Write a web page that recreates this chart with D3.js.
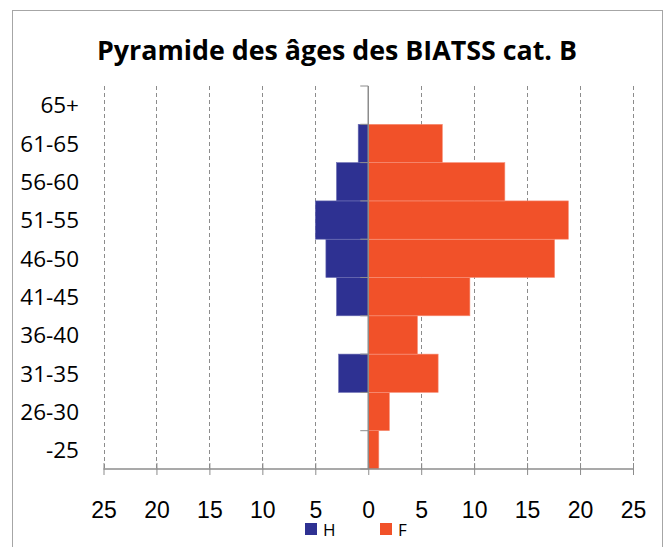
<!DOCTYPE html>
<html>
<head>
<meta charset="utf-8">
<script src="https://cdn.jsdelivr.net/npm/d3@7/dist/d3.min.js"></script>
<style>
  body { margin: 0; background: #fff; }
  svg { display: block; font-family: "Open Sans", sans-serif; }
</style>
</head>
<body>
<div id="chart"></div>
<script>
  // age groups, bottom to top as in the spreadsheet
  const ages = ["-25", "26-30", "31-35", "36-40", "41-45", "46-50", "51-55", "56-60", "61-65", "65+"];
  const hommes = [0, 0, 2.8, 0, 3, 4, 5, 3, 0.95, 0];
  const femmes = [1, 2, 6.6, 4.65, 9.6, 17.6, 18.9, 12.9, 7, 0];
  const ticks = [-25, -20, -15, -10, -5, 0, 5, 10, 15, 20, 25];
  const series = ["H", "F"];
  const colors = { H: "#2E3192", F: "#F15129" };

  const width = 667, height = 547;
  const plot = { left: 103.5, right: 633, top: 86, bottom: 469 };

  const svg = d3.select("#chart").append("svg")
    .attr("width", width)
    .attr("height", height);

  // chart frame
  svg.append("rect")
    .attr("x", 12.5).attr("y", 10.5)
    .attr("width", 650).attr("height", 560)
    .attr("fill", "#fff")
    .attr("stroke", "#a6a6a6");

  svg.append("text")
    .attr("x", 337).attr("y", 60)
    .attr("text-anchor", "middle")
    .style("font-size", "26px")
    .style("font-weight", "bold")
    .attr("textLength", 480)
    .attr("lengthAdjust", "spacingAndGlyphs")
    .text("Pyramide des âges des BIATSS cat. B");

  const x = d3.scaleLinear().domain([-25, 25]).range([plot.left, plot.right]);
  const y = d3.scaleBand().domain(ages.slice().reverse()).range([plot.top, plot.bottom]).padding(0);

  // dashed vertical gridlines
  svg.append("g")
    .selectAll("line")
    .data(ticks.filter(t => t !== 0))
    .join("line")
      .attr("x1", d => Math.round(x(d)) + 0.5)
      .attr("x2", d => Math.round(x(d)) + 0.5)
      .attr("y1", plot.top)
      .attr("y2", plot.bottom)
      .attr("stroke", "#8c8c8c")
      .attr("stroke-dasharray", "4,3");

  const rows = ages.map((a, i) => ({ age: a, H: hommes[i], F: femmes[i] }));

  // H bars to the left, F bars to the right
  svg.append("g")
    .selectAll("rect")
    .data(rows.filter(d => d.H > 0))
    .join("rect")
      .attr("x", d => x(-d.H))
      .attr("y", d => y(d.age))
      .attr("width", d => x(0) - x(-d.H))
      .attr("height", y.bandwidth())
      .attr("fill", colors.H)
      .attr("stroke", "#6b6db3")
      .attr("stroke-width", 0.6);

  svg.append("g")
    .selectAll("rect")
    .data(rows.filter(d => d.F > 0))
    .join("rect")
      .attr("x", x(0))
      .attr("y", d => y(d.age))
      .attr("width", d => x(d.F) - x(0))
      .attr("height", y.bandwidth())
      .attr("fill", colors.F)
      .attr("stroke", "#f7917a")
      .attr("stroke-width", 0.6);

  // bottom axis
  const xAxis = svg.append("g")
    .attr("transform", `translate(0,${plot.bottom})`)
    .call(d3.axisBottom(x).tickValues(ticks).tickSize(6).tickFormat(d => Math.abs(d)));
  xAxis.select(".domain").attr("stroke", "#8c8c8c").attr("stroke-width", 1.5)
    .attr("d", `M${plot.left},0H${plot.right}`);
  xAxis.selectAll(".tick line").attr("stroke", "#8c8c8c").attr("y1", -6).attr("y2", 6);
  xAxis.selectAll(".tick text")
    .attr("y", 33)
    .style("font-size", "23px")
    .attr("fill", "#000");

  // vertical axis at zero with ticks on band edges
  const edges = d3.range(ages.length + 1).map(i => plot.top + i * y.step());
  const yAxis = svg.append("g");
  yAxis.append("line")
    .attr("x1", x(0)).attr("x2", x(0))
    .attr("y1", plot.top).attr("y2", plot.bottom)
    .attr("stroke", "#8c8c8c").attr("stroke-width", 1.5);
  yAxis.selectAll("line.t")
    .data(edges)
    .join("line")
      .attr("class", "t")
      .attr("x1", x(0) - 8).attr("x2", x(0))
      .attr("y1", d => d).attr("y2", d => d)
      .attr("stroke", "#8c8c8c");

  // age labels on the left
  svg.append("g")
    .selectAll("text")
    .data(ages)
    .join("text")
      .attr("x", 79)
      .attr("y", d => y(d) + y.bandwidth() / 2)
      .attr("dy", "0.37em")
      .attr("text-anchor", "end")
      .style("font-size", "22.5px")
      .text(d => d);

  // legend
  const legend = svg.append("g")
    .selectAll("g")
    .data(series)
    .join("g")
      .attr("transform", (d, i) => `translate(${305 + i * 75},523)`);
  legend.append("rect")
    .attr("width", 12).attr("height", 12)
    .attr("fill", d => colors[d]);
  legend.append("text")
    .attr("x", 18).attr("y", 12.5)
    .style("font-size", "17px")
    .text(d => d);
</script>
</body>
</html>
